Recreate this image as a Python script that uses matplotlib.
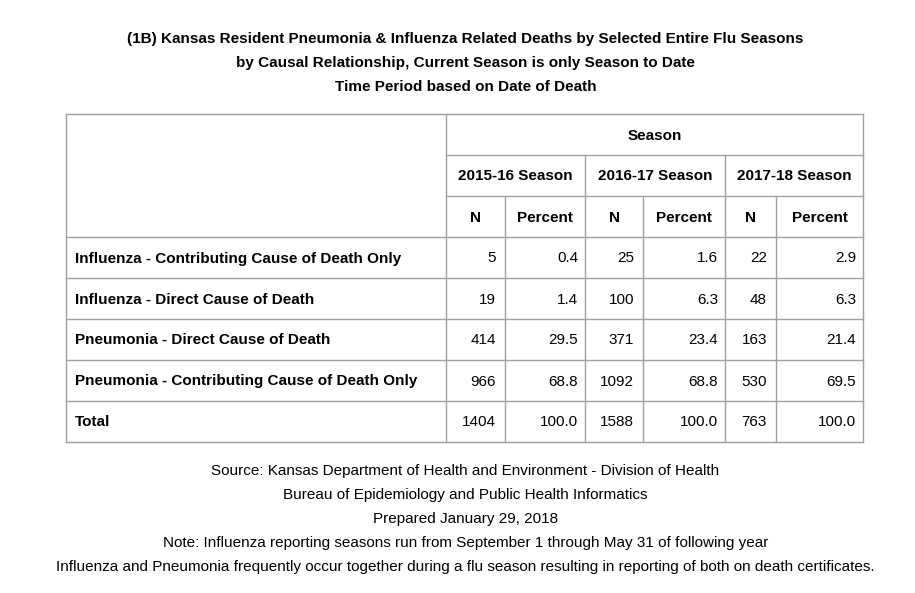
import matplotlib.pyplot as plt

plt.rcParams['font.family'] = ['Liberation Sans', 'DejaVu Sans']

title_lines = ["(1B) Kansas Resident Pneumonia & Influenza Related Deaths by Selected Entire Flu Seasons",
               "by Causal Relationship, Current Season is only Season to Date",
               "Time Period based on Date of Death"]
seasons = ["2015-16 Season", "2016-17 Season", "2017-18 Season"]
row_labels = ["Influenza - Contributing Cause of Death Only",
              "Influenza - Direct Cause of Death",
              "Pneumonia - Direct Cause of Death",
              "Pneumonia - Contributing Cause of Death Only",
              "Total"]
counts = [[5, 25, 22], [19, 100, 48], [414, 371, 163], [966, 1092, 530], [1404, 1588, 763]]
percents = [[0.4, 1.6, 2.9], [1.4, 6.3, 6.3], [29.5, 23.4, 21.4], [68.8, 68.8, 69.5], [100.0, 100.0, 100.0]]
footer_lines = ["Source: Kansas Department of Health and Environment - Division of Health",
                "Bureau of Epidemiology and Public Health Informatics",
                "Prepared January 29, 2018",
                "Note: Influenza reporting seasons run from September 1 through May 31 of following year",
                "Influenza and Pneumonia frequently occur together during a flu season resulting in reporting of both on death certificates."]

W, H = 915, 593
fig = plt.figure(figsize=(W / 100, H / 100), dpi=100)
ax = fig.add_axes([0, 0, 1, 1])
ax.set_xlim(0, W)
ax.set_ylim(H, 0)
ax.axis('off')

lc = '#a0a0a0'
cols = [66, 446, 505, 585, 643, 725, 776, 863]
rows = [114 + 41 * i for i in range(9)]
fs = 11

for i, t in enumerate(title_lines):
    ax.text(W / 2 + 8, 39 + 24 * i, t, ha='center', va='center', fontsize=fs, fontweight='bold')

def hline(y, x0, x1):
    ax.plot([x0, x1], [y, y], color=lc, lw=1)

def vline(x, y0, y1):
    ax.plot([x, x], [y0, y1], color=lc, lw=1)

# outer border
hline(rows[0], cols[0], cols[-1])
hline(rows[-1], cols[0], cols[-1])
vline(cols[0], rows[0], rows[-1])
vline(cols[-1], rows[0], rows[-1])
vline(cols[1], rows[0], rows[-1])
hline(rows[1], cols[1], cols[-1])
hline(rows[2], cols[1], cols[-1])
for r in rows[3:-1]:
    hline(r, cols[0], cols[-1])
for k in (3, 5):
    vline(cols[k], rows[1], rows[-1])
for k in (2, 4, 6):
    vline(cols[k], rows[2], rows[-1])

def cy(i):
    return (rows[i] + rows[i + 1]) / 2 + 1

ax.text((cols[1] + cols[-1]) / 2, cy(0), "Season", ha='center', va='center', fontsize=fs, fontweight='bold')
for j, s in enumerate(seasons):
    ax.text((cols[1 + 2 * j] + cols[3 + 2 * j]) / 2, cy(1), s, ha='center', va='center', fontsize=fs, fontweight='bold')
    ax.text((cols[1 + 2 * j] + cols[2 + 2 * j]) / 2, cy(2), "N", ha='center', va='center', fontsize=fs, fontweight='bold')
    ax.text((cols[2 + 2 * j] + cols[3 + 2 * j]) / 2, cy(2), "Percent", ha='center', va='center', fontsize=fs, fontweight='bold')

for i, lab in enumerate(row_labels):
    ax.text(cols[0] + 9, cy(3 + i), lab, ha='left', va='center', fontsize=fs, fontweight='bold')
    for j in range(3):
        ax.text(cols[2 + 2 * j] - 9, cy(3 + i), str(counts[i][j]), ha='right', va='center', fontsize=fs)
        ax.text(cols[3 + 2 * j] - 7, cy(3 + i), f"{percents[i][j]:.1f}", ha='right', va='center', fontsize=fs)

for i, t in enumerate(footer_lines):
    ax.text(W / 2 + 8, 471 + 24 * i, t, ha='center', va='center', fontsize=fs)

fig.savefig('out.png', dpi=100)
